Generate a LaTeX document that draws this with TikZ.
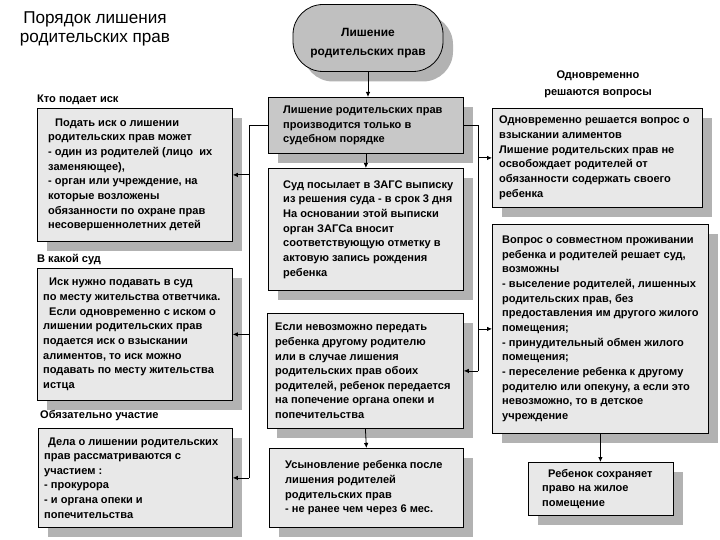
\documentclass[tikz,border=0pt]{standalone}
\usepackage{fontspec}
\setmainfont{Liberation Sans}
\usetikzlibrary{shadows,arrows.meta}

\definecolor{boxfill}{RGB}{232,232,232}
\definecolor{darkfill}{RGB}{200,200,200}
\definecolor{ovalfill}{RGB}{192,192,192}
\definecolor{shadowgray}{RGB}{178,178,178}

\tikzset{
  shadowed/.style={drop shadow={shadow xshift=10bp, shadow yshift=-10bp, fill=shadowgray, opacity=1}},
  frame/.style={draw=black, line width=0.8bp, fill=boxfill, shadowed, anchor=north west, inner sep=0pt},
  boxtext/.style={anchor=west, align=left, inner sep=0pt, font=\bfseries\fontsize{11.1}{14.7}\selectfont},
  caption/.style={anchor=west, inner sep=0pt, font=\bfseries\fontsize{11.1}{13}\selectfont},
  link/.style={line width=0.8bp},
  arr/.style={link, -{Latex[length=5bp, width=4.5bp]}},
}

\begin{document}
\begin{tikzpicture}[x=1bp,y=-1bp]

\fill[white] (0,0) rectangle (720,540) ;
\useasboundingbox (0,0) rectangle (720,540) ;

\node[align=center, inner sep=0pt, font=\fontsize{17.2}{18.5}\selectfont] (title) at (95,29) {Порядок лишения\\родительских прав} ;

% top oval
\node[draw=black, line width=0.8bp, fill=ovalfill, shadowed, rounded corners=30bp,
  minimum width=150bp, minimum height=67bp, inner sep=0pt] (top) at (368,38) {} ;
\node[align=center, inner sep=0pt, font=\bfseries\fontsize{12}{19}\selectfont] (topt) at ([yshift=-5bp]top.center) {Лишение\\родительских прав} ;

% middle column
\node[frame, fill=darkfill, minimum width=195bp, minimum height=56bp] (m1) at (268,97) {} ;
\node[boxtext] (m1t) at ([xshift=15bp]m1.west) {Лишение родительских прав\\производится только в\\судебном порядке} ;

\node[frame, minimum width=195bp, minimum height=122bp] (m2) at (268,168) {} ;
\node[boxtext] (m2t) at ([xshift=15bp]m2.west) {Суд посылает в ЗАГС выписку\\из решения суда - в срок 3 дня\\На основании этой выписки\\орган ЗАГСа вносит\\соответствующую отметку в\\актовую запись рождения\\ребенка} ;

\node[frame, minimum width=196bp, minimum height=115bp] (m3) at (267,313) {} ;
\node[boxtext] (m3t) at ([xshift=8bp]m3.west) {Если невозможно передать\\ребенка другому родителю\\или в случае лишения\\родительских прав обоих\\родителей, ребенок передается\\на попечение органа опеки и\\попечительства} ;

\node[frame, minimum width=194bp, minimum height=79bp] (m4) at (269,448) {} ;
\node[boxtext] (m4t) at ([xshift=16bp]m4.west) {Усыновление ребенка после\\лишения родителей\\родительских прав\\- не ранее чем через 6 мес.} ;

% left column
\node[caption] (l1c) at (37,100) {Кто подает иск} ;
\node[frame, minimum width=195bp, minimum height=133bp] (l1) at (37,108) {} ;
\node[boxtext] (l1t) at ([xshift=11bp]l1.west) {\hspace*{7bp}Подать иск о лишении\\родительских прав может\\- один из родителей (лицо~ их\\заменяющее),\\- орган или учреждение, на\\которые возложены\\обязанности по охране прав\\несовершеннолетних детей} ;

\node[caption] (l2c) at (37,260) {В какой суд} ;
\node[frame, minimum width=195bp, minimum height=132bp] (l2) at (37,268) {} ;
\node[boxtext] (l2t) at ([xshift=6bp]l2.west) {\hspace*{6bp}Иск нужно подавать в суд\\по месту жительства ответчика.\\\hspace*{6bp}Если одновременно с иском о\\лишении родительских прав\\подается иск о взыскании\\алиментов, то иск можно\\подавать по месту жительства\\истца} ;

\node[caption] (l3c) at (40,416) {Обязательно участие} ;
\node[frame, minimum width=194bp, minimum height=99bp] (l3) at (38,428) {} ;
\node[boxtext] (l3t) at ([xshift=6bp]l3.west) {\hspace*{4bp}Дела о лишении родительских\\прав рассматриваются с\\участием :\\- прокурора\\- и органа опеки и\\попечительства} ;

% right column
\node[align=center, inner sep=0pt, font=\bfseries\fontsize{11.1}{17}\selectfont] (r1c) at (598,84) {Одновременно\\решаются вопросы} ;
\node[frame, minimum width=210bp, minimum height=99bp] (r1) at (492,108) {} ;
\node[boxtext] (r1t) at ([xshift=7bp]r1.west) {Одновременно решается вопрос о\\взыскании алиментов\\Лишение родительских прав не\\освобождает родителей от\\обязанности содержать своего\\ребенка} ;

\node[frame, minimum width=216bp, minimum height=209bp] (r2) at (492,224) {} ;
\node[boxtext] (r2t) at ([xshift=10bp]r2.west) {Вопрос о совместном проживании\\ребенка и родителей решает суд,\\возможны\\- выселение родителей, лишенных\\родительских прав, без\\предоставления им другого жилого\\помещения;\\- принудительный обмен жилого\\помещения;\\- переселение ребенка к другому\\родителю или опекуну, а если это\\невозможно, то в детское\\учреждение} ;

\node[frame, minimum width=145bp, minimum height=53bp] (r3) at (528,462) {} ;
\node[boxtext] (r3t) at ([xshift=14bp]r3.west) {\hspace*{6bp}Ребенок сохраняет\\право на жилое\\помещение} ;

% connectors
\coordinate (lbus) at (249,0) ;
\coordinate (rbus) at (478,0) ;

\draw[arr] (top.south) -- (top.south |- m1.north) ;
\draw[arr] (m1.south) -- (m2.north) ;
\draw[arr] (m3.south) -- (m4.north) ;
\draw[arr] (r2.south) -- (r2.south |- r3.north) ;

\draw[link] (m1.west) -- (m1.west -| lbus) -- (l3.east -| lbus) ;
\draw[arr] (l1.east -| lbus) -- (l1.east) ;
\draw[arr] (l2.east -| lbus) -- (l2.east) ;
\draw[arr] (l3.east -| lbus) -- (l3.east) ;

\draw[link] (m1.east) -- (m1.east -| rbus) -- (m3.east -| rbus) ;
\draw[arr] (r1.west -| rbus) -- (r1.west) ;
\draw[arr] (r2.west -| rbus) -- (r2.west) ;
\draw[arr] (m3.east -| rbus) -- (m3.east) ;

\end{tikzpicture}
\end{document}
